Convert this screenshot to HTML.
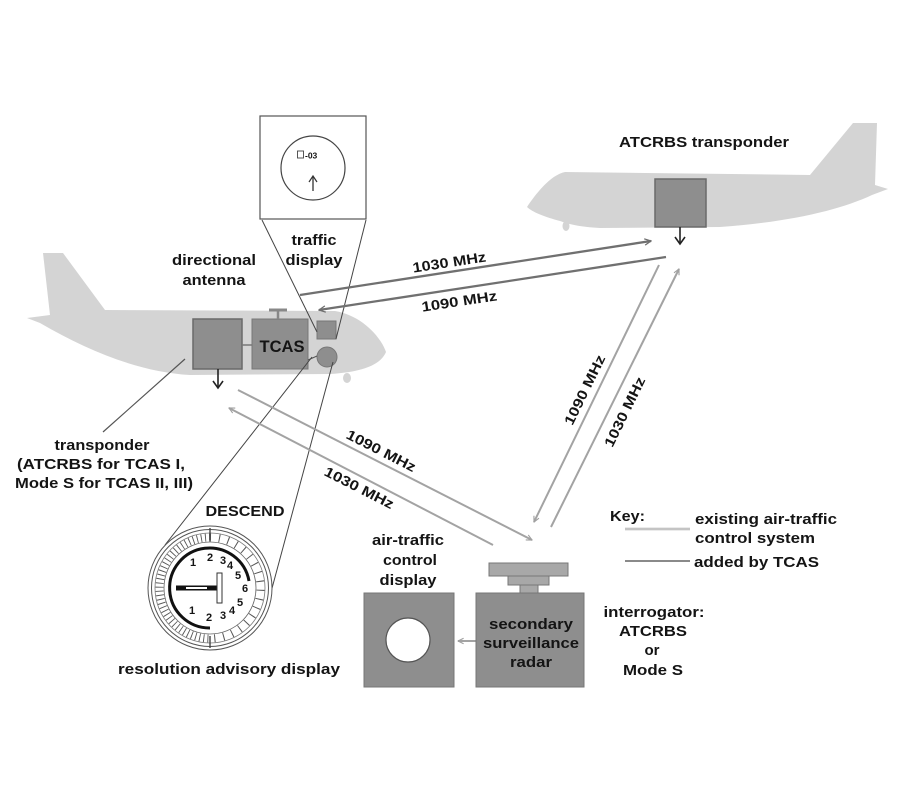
<!DOCTYPE html>
<html><head><meta charset="utf-8"><style>
html,body{margin:0;padding:0;background:#fff;}
svg{display:block;}
text{font-family:"Liberation Sans",Arial,sans-serif;font-weight:bold;fill:#141414;}
</style></head><body>
<svg width="900" height="800" viewBox="0 0 900 800" xmlns="http://www.w3.org/2000/svg">
<defs>
<marker id="aL" viewBox="0 0 10 10" refX="9" refY="5" markerWidth="7" markerHeight="7" markerUnits="userSpaceOnUse" orient="auto"><path d="M1,1 L9,5 L1,9" fill="none" stroke="#a0a0a0" stroke-width="1.6"/></marker>
<marker id="aD" viewBox="0 0 10 10" refX="9" refY="5" markerWidth="8" markerHeight="8" markerUnits="userSpaceOnUse" orient="auto"><path d="M1,1 L9,5 L1,9" fill="none" stroke="#6e6e6e" stroke-width="1.6"/></marker>
</defs>
<rect width="900" height="800" fill="#fff"/>

<!-- left plane -->
<path d="M50,315 L43,253 L63,253 L105,310 L335,311 C360,315 380,335 386,352 C380,366 360,372 330,374 L190,375 C140,372 90,352 40,323 L27,318 Z" fill="#d4d4d4"/>
<ellipse cx="347" cy="378" rx="4" ry="5" fill="#d4d4d4"/>

<!-- right plane -->
<path d="M527,207 C535,195 550,175 565,172 L810,175 L853,123 L877,123 L875,185 L888,189 L872,195 C840,210 790,222 720,227 L600,228 C580,227 568,224 560,221 C545,217 532,212 527,207 Z" fill="#d4d4d4"/>
<ellipse cx="566" cy="226" rx="3.5" ry="5" fill="#d4d4d4"/>

<!-- left plane equipment -->
<rect x="193" y="319" width="49" height="50" fill="#8e8e8e" stroke="#6a6a6a" stroke-width="1.5"/>
<rect x="252" y="319" width="56" height="50" fill="#8e8e8e" stroke="#777" stroke-width="1"/>
<line x1="242" y1="345" x2="252" y2="345" stroke="#777" stroke-width="1.5"/>
<text x="282" y="352" font-size="17" text-anchor="middle" textLength="45" lengthAdjust="spacingAndGlyphs">TCAS</text>
<line x1="269" y1="310" x2="287" y2="310" stroke="#888" stroke-width="3"/>
<line x1="278" y1="310" x2="278" y2="319" stroke="#888" stroke-width="2.5"/>
<rect x="317" y="321" width="19" height="18" fill="#8e8e8e" stroke="#777" stroke-width="1"/>
<circle cx="327" cy="357" r="10" fill="#8e8e8e" stroke="#777" stroke-width="1"/>
<line x1="308" y1="360" x2="317" y2="356" stroke="#555" stroke-width="1"/>
<line x1="218" y1="369" x2="218" y2="387" stroke="#222" stroke-width="1.6"/>
<path d="M213,381 L218,388 L223,381" fill="none" stroke="#222" stroke-width="1.6"/>

<!-- right plane equipment -->
<rect x="655" y="179" width="51" height="48" fill="#8e8e8e" stroke="#6a6a6a" stroke-width="1.5"/>
<line x1="680" y1="227" x2="680" y2="243" stroke="#222" stroke-width="1.6"/>
<path d="M675,237 L680,244 L685,237" fill="none" stroke="#222" stroke-width="1.6"/>

<!-- traffic display -->
<rect x="260" y="116" width="106" height="103" fill="#fff" stroke="#555" stroke-width="1.2"/>
<circle cx="313" cy="168" r="32" fill="none" stroke="#444" stroke-width="1.2"/>
<rect x="297.5" y="151" width="6" height="7" fill="none" stroke="#444" stroke-width="0.9"/>
<text x="305" y="158.5" font-size="8.5">-03</text>
<line x1="313" y1="191" x2="313" y2="177" stroke="#333" stroke-width="1.3"/>
<path d="M309,182 L313,176 L317,182" fill="none" stroke="#333" stroke-width="1.2"/>
<line x1="262" y1="220" x2="317" y2="332" stroke="#444" stroke-width="1"/>
<line x1="366" y1="220" x2="336" y2="339" stroke="#444" stroke-width="1"/>

<!-- resolution advisory funnel -->
<line x1="312" y1="357" x2="165" y2="545" stroke="#444" stroke-width="1"/>
<line x1="333" y1="362" x2="271" y2="592" stroke="#444" stroke-width="1"/>

<!-- transponder label line -->
<line x1="185" y1="359" x2="103" y2="432" stroke="#555" stroke-width="1.2"/>

<!-- TCAS added lines (top) -->
<line x1="300" y1="295" x2="651" y2="241" stroke="#707070" stroke-width="2.3" marker-end="url(#aD)"/>
<line x1="666" y1="257" x2="319" y2="310" stroke="#707070" stroke-width="2.3" marker-end="url(#aD)"/>

<!-- existing lines -->
<line x1="659" y1="265" x2="534" y2="522" stroke="#a3a3a3" stroke-width="2" marker-end="url(#aL)"/>
<line x1="551" y1="527" x2="679" y2="269" stroke="#a3a3a3" stroke-width="2" marker-end="url(#aL)"/>
<line x1="238" y1="390" x2="532" y2="540" stroke="#a3a3a3" stroke-width="2" marker-end="url(#aL)"/>
<line x1="493" y1="545" x2="229" y2="408" stroke="#a3a3a3" stroke-width="2" marker-end="url(#aL)"/>
<line x1="476" y1="641" x2="458" y2="641" stroke="#a3a3a3" stroke-width="2" marker-end="url(#aL)"/>

<!-- ATC display -->
<rect x="364" y="593" width="90" height="94" fill="#8e8e8e" stroke="#777" stroke-width="1"/>
<circle cx="408" cy="640" r="22" fill="#fff" stroke="#555" stroke-width="1.2"/>

<!-- radar -->
<rect x="476" y="593" width="108" height="94" fill="#8e8e8e" stroke="#777" stroke-width="1"/>
<rect x="489" y="563" width="79" height="13" fill="#a8a8a8" stroke="#777" stroke-width="1"/>
<rect x="508" y="576" width="41" height="9" fill="#a8a8a8" stroke="#777" stroke-width="1"/>
<rect x="520" y="585" width="18" height="8" fill="#a8a8a8" stroke="#777" stroke-width="1"/>

<!-- frequency labels -->
<g font-size="14" text-anchor="middle">
<text transform="translate(450,267) rotate(-8.7)" textLength="74" lengthAdjust="spacingAndGlyphs">1030 MHz</text>
<text transform="translate(460,306) rotate(-8.7)" textLength="76" lengthAdjust="spacingAndGlyphs">1090 MHz</text>
<text transform="translate(589,392) rotate(-64)" textLength="76" lengthAdjust="spacingAndGlyphs">1090 MHz</text>
<text transform="translate(629,414) rotate(-64)" textLength="76" lengthAdjust="spacingAndGlyphs">1030 MHz</text>
<text transform="translate(379,455) rotate(27)" textLength="76" lengthAdjust="spacingAndGlyphs">1090 MHz</text>
<text transform="translate(357,492) rotate(27)" textLength="76" lengthAdjust="spacingAndGlyphs">1030 MHz</text>
</g>

<!-- labels -->
<g font-size="15" text-anchor="middle">
<text x="314" y="245" textLength="45" lengthAdjust="spacingAndGlyphs">traffic</text>
<text x="314" y="265" textLength="57" lengthAdjust="spacingAndGlyphs">display</text>
<text x="214" y="265" textLength="84" lengthAdjust="spacingAndGlyphs">directional</text>
<text x="214" y="285" textLength="63" lengthAdjust="spacingAndGlyphs">antenna</text>
<text x="704" y="147" textLength="170" lengthAdjust="spacingAndGlyphs">ATCRBS transponder</text>
<text x="102" y="450" textLength="95" lengthAdjust="spacingAndGlyphs">transponder</text>
<text x="101" y="469" textLength="168" lengthAdjust="spacingAndGlyphs">(ATCRBS for TCAS I,</text>
<text x="104" y="488" textLength="178" lengthAdjust="spacingAndGlyphs">Mode S for TCAS II, III)</text>
<text x="245" y="516" textLength="79" lengthAdjust="spacingAndGlyphs">DESCEND</text>
<text x="229" y="674" textLength="222" lengthAdjust="spacingAndGlyphs">resolution advisory display</text>
<text x="408" y="545" textLength="72" lengthAdjust="spacingAndGlyphs">air-traffic</text>
<text x="410" y="565" textLength="54" lengthAdjust="spacingAndGlyphs">control</text>
<text x="408" y="585" textLength="57" lengthAdjust="spacingAndGlyphs">display</text>
<text x="531" y="629" textLength="84" lengthAdjust="spacingAndGlyphs">secondary</text>
<text x="531" y="648" textLength="96" lengthAdjust="spacingAndGlyphs">surveillance</text>
<text x="531" y="667" textLength="42" lengthAdjust="spacingAndGlyphs">radar</text>
<text x="654" y="617" textLength="101" lengthAdjust="spacingAndGlyphs">interrogator:</text>
<text x="653" y="636" textLength="68" lengthAdjust="spacingAndGlyphs">ATCRBS</text>
<text x="652" y="655" textLength="15" lengthAdjust="spacingAndGlyphs">or</text>
<text x="653" y="675" textLength="60" lengthAdjust="spacingAndGlyphs">Mode S</text>
</g>

<!-- dial -->
<circle cx="210" cy="588" r="62" fill="#fff" stroke="#555" stroke-width="1"/>
<circle cx="210" cy="588" r="58.5" fill="none" stroke="#555" stroke-width="1"/>
<circle cx="210" cy="588" r="55" fill="none" stroke="#777" stroke-width="0.8"/>
<path d="M210,537.5 A50.5,50.5 0 0,0 210,638.5" fill="none" stroke="#555" stroke-width="8" stroke-dasharray="0.9 3.2"/>
<path d="M210,537.5 A50.5,50.5 0 0,1 210,638.5" fill="none" stroke="#555" stroke-width="8" stroke-dasharray="1 8"/>
<circle cx="210" cy="588" r="46" fill="none" stroke="#666" stroke-width="0.8"/>
<path d="M249,581 A40,40 0 1,0 210,628" fill="none" stroke="#111" stroke-width="3"/>
<line x1="210" y1="528" x2="210" y2="540" stroke="#444" stroke-width="1.4"/>
<line x1="210" y1="636" x2="210" y2="648" stroke="#444" stroke-width="1.4"/>
<g font-size="11" text-anchor="middle">
<text x="193" y="566">1</text><text x="210" y="561">2</text><text x="223" y="564">3</text><text x="230" y="569">4</text><text x="238" y="579">5</text><text x="245" y="592">6</text><text x="240" y="606">5</text><text x="232" y="614">4</text><text x="223" y="619">3</text><text x="209" y="621">2</text><text x="192" y="614">1</text>
</g>
<line x1="176" y1="588" x2="218" y2="588" stroke="#111" stroke-width="5"/>
<line x1="186" y1="588" x2="207" y2="588" stroke="#fff" stroke-width="2"/>
<rect x="217" y="573" width="5" height="30" fill="#fff" stroke="#333" stroke-width="1"/>

<!-- key -->
<g font-size="15">
<text x="610" y="521" textLength="35" lengthAdjust="spacingAndGlyphs">Key:</text>
<text x="695" y="524" textLength="142" lengthAdjust="spacingAndGlyphs">existing air-traffic</text>
<text x="695" y="543" textLength="120" lengthAdjust="spacingAndGlyphs">control system</text>
<text x="694" y="567" textLength="125" lengthAdjust="spacingAndGlyphs">added by TCAS</text>
</g>
<line x1="625" y1="529" x2="690" y2="529" stroke="#b0b0b0" stroke-width="2.5"/>
<line x1="625" y1="529" x2="690" y2="529" stroke="#e4e4e4" stroke-width="0.8"/>
<line x1="625" y1="561" x2="690" y2="561" stroke="#8a8a8a" stroke-width="2"/>
</svg>
</body></html>
